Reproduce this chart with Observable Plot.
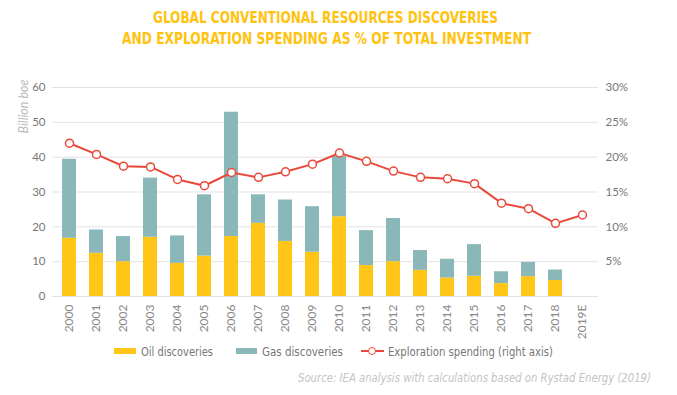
<!DOCTYPE html>
<html><head><meta charset="utf-8">
<script src="https://cdn.jsdelivr.net/npm/d3@7"></script>
<script src="https://cdn.jsdelivr.net/npm/@observablehq/plot@0.6"></script>
<style>
body{margin:0;background:#fff;}
#wrap{position:relative;width:677px;height:395px;overflow:hidden;font-family:Lato,sans-serif;background:#fff;}
.fit{position:absolute;white-space:nowrap;transform-origin:0 50%;line-height:1;}
#chart{position:absolute;left:0;top:60px;}
.sw{position:absolute;}
</style></head><body>
<div id="wrap"><div id="chart"></div></div>
<script>
const years = ["2000","2001","2002","2003","2004","2005","2006","2007","2008","2009","2010","2011","2012","2013","2014","2015","2016","2017","2018","2019E"];
const oil = [16.7,12.4,10.0,17.0,9.5,11.6,17.2,21.0,15.8,12.7,22.9,8.9,10.0,7.5,5.3,5.8,3.7,5.7,4.6,null];
const gas = [22.7,6.7,7.2,17.0,7.9,17.6,35.7,8.2,11.9,13.1,17.3,10.0,12.4,5.7,5.4,9.1,3.4,4.1,3.0,null];
const spend = [22.0,20.4,18.7,18.6,16.8,15.9,17.8,17.1,17.9,19.0,20.6,19.4,18.0,17.1,16.9,16.2,13.4,12.6,10.5,11.7];
const types = ["Oil discoveries","Gas discoveries"];
const lineName = "Exploration spending (right axis)";
const yTicks = [0,10,20,30,40,50,60];
const colors = ["#FFC617","#8AB8B8"];
const red = "#E8493B";

const rows = years.flatMap((y,i)=> oil[i]==null?[]:[
  {year:y,type:types[0],value:oil[i]},
  {year:y,type:types[1],value:gas[i]}]);
const spendRows = years.map((y,i)=>({year:y,pct:spend[i]}));

const chart = Plot.plot({
  width:677,height:280,marginTop:27,marginBottom:44,marginLeft:52,marginRight:79,
  style:{fontFamily:"Lato, sans-serif",background:"transparent"},
  x:{domain:years,paddingInner:0.5,paddingOuter:0.25,axis:null},
  y:{domain:[0,60],axis:null},
  color:{domain:types,range:colors},
  marks:[
    Plot.gridY(yTicks,{stroke:"#e2e2e2",strokeOpacity:1}),
    Plot.barY(rows,{x:"year",y:"value",fill:"type"}),
    Plot.line(spendRows,{x:"year",y:d=>d.pct*2,stroke:red,strokeWidth:2}),
    Plot.dot(spendRows,{x:"year",y:d=>d.pct*2,r:4,fill:"white",stroke:red,strokeWidth:1.5}),
    Plot.axisY(yTicks,{anchor:"left",tickSize:0,tickPadding:7,fontSize:11.5,fill:"#777",label:null}),
    Plot.axisY(yTicks.filter(d=>d>0),{anchor:"right",tickSize:0,tickPadding:7,tickFormat:d=>d/2+"%",fontSize:11.5,fill:"#777",label:null}),
    Plot.axisX({tickRotate:-90,tickSize:0,tickPadding:8,fontSize:12,fill:"#888",label:null}),
    Plot.text(["Billion boe"],{frameAnchor:"top-left",dx:-33,dy:-8,rotate:-90,textAnchor:"end",fontStyle:"italic",fill:"#bbb",fontSize:12.5})
  ]
});
document.getElementById("chart").appendChild(chart);

const wrap = document.getElementById("wrap");
function fitText(txt,x,yc,target,opts){
  const s=document.createElement("span");
  s.className="fit";s.textContent=txt;
  Object.assign(s.style,{left:x+"px",fontSize:opts.size+"px",top:(yc-opts.size/2)+"px",color:opts.color,
    fontFamily:opts.family||"Lato, sans-serif",fontWeight:opts.weight||"normal",fontStyle:opts.style||"normal"});
  wrap.appendChild(s);
  const w=s.getBoundingClientRect().width;
  s.style.transform="scaleX("+(target/w)+")";
  return s;
}
function box(x,y,w,h,c){const d=document.createElement("div");d.className="sw";
  Object.assign(d.style,{left:x+"px",top:y+"px",width:w+"px",height:h+"px",background:c});wrap.appendChild(d);}

// title
const tf={size:16,color:"#FFC20E",family:"'DejaVu Sans Condensed', 'DejaVu Sans', sans-serif",weight:"bold"};
fitText("GLOBAL CONVENTIONAL RESOURCES DISCOVERIES",153,17.5,345,tf);
fitText("AND EXPLORATION SPENDING AS % OF TOTAL INVESTMENT",121.5,39,409,tf);

// legend
const lf={size:13,color:"#777",family:"'DejaVu Sans Condensed', 'DejaVu Sans', sans-serif"};
box(114,348,22,6,colors[0]);
fitText(types[0],141,351.5,72,lf);
box(236,348,21,6,colors[1]);
fitText(types[1],262,351.5,81,lf);
box(361,350,23,2,red);
const c=document.createElement("div");c.className="sw";
Object.assign(c.style,{left:"368px",top:"347px",width:"6px",height:"6px",borderRadius:"50%",border:"1.5px solid "+red,background:"#fff"});
wrap.appendChild(c);
fitText(lineName,388,351.5,165,lf);

// source
fitText("Source: IEA analysis with calculations based on Rystad Energy (2019)",298,378,353,
  {size:12.5,color:"#c4c4c4",family:"'DejaVu Sans Condensed', 'DejaVu Sans', sans-serif",style:"italic"});
</script>
</body></html>
